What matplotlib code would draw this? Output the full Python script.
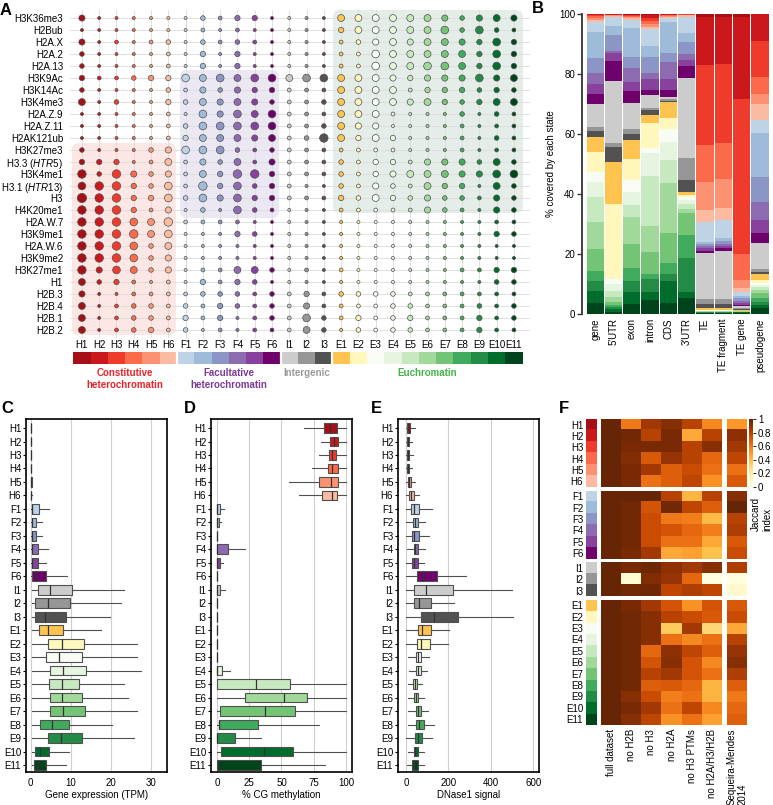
import numpy as np
import matplotlib
matplotlib.use('Agg')
import matplotlib.pyplot as plt
from matplotlib.patches import FancyBboxPatch
from matplotlib.colors import ListedColormap, Normalize
from matplotlib.cm import ScalarMappable

plt.rcParams['font.family'] = ['Liberation Sans', 'DejaVu Sans']
plt.rcParams['font.size'] = 7
plt.rcParams['mathtext.fontset'] = 'custom'
plt.rcParams['mathtext.rm'] = 'Liberation Sans'
plt.rcParams['mathtext.it'] = 'Liberation Sans:italic'

W, H = 773, 805

states = ['H1', 'H2', 'H3', 'H4', 'H5', 'H6',
          'F1', 'F2', 'F3', 'F4', 'F5', 'F6',
          'I1', 'I2', 'I3',
          'E1', 'E2', 'E3', 'E4', 'E5', 'E6', 'E7', 'E8', 'E9', 'E10', 'E11']
state_colors = ['#a50f15', '#cb181d', '#ef3b2c', '#fb6a4a', '#fc9272', '#fcbba1',
                '#bfd3e6', '#9ebcda', '#8c96c6', '#8c6bb1', '#88419d', '#6e016b',
                '#cccccc', '#969696', '#525252',
                '#fec44f', '#fff7bc', '#f7fcf5', '#e5f5e0', '#c7e9c0', '#a1d99b',
                '#74c476', '#41ab5d', '#238b45', '#006d2c', '#00441b']

# panel A: chromatin marks and bubble size level (state emission)
marks = ['H3K36me3', 'H2Bub', 'H2A.X', 'H2A.2', 'H2A.13', 'H3K9Ac', 'H3K14Ac',
         'H3K4me3', 'H2A.Z.9', 'H2A.Z.11', 'H2AK121ub', 'H3K27me3',
         'H3.3 $\\mathit{(HTR5)}$', 'H3K4me1', 'H3.1 $\\mathit{(HTR13)}$', 'H3',
         'H4K20me1', 'H2A.W.7', 'H3K9me1', 'H2A.W.6', 'H3K9me2', 'H3K27me1',
         'H1', 'H2B.3', 'H2B.4', 'H2B.1', 'H2B.2']
mark_levels = [
    [3, 1, 1, 1, 1, 1, 1, 2, 1.5, 2.5, 2.5, 1, 1, 1, 1, 3.5, 3.5, 3.5, 3.5, 3.5, 3.5, 3, 2, 3, 3.5, 3],
    [1, 1, 1, 1, 1, 1, 1, 1.5, 1, 1.5, 1, 1, 1, 1, 1, 2.5, 3.5, 3.5, 3.5, 3.5, 3.5, 4, 2, 4, 2, 1.5],
    [3, 1, 1.5, 1, 1.5, 2, 1, 2, 1.5, 2, 1.5, 1, 1, 1, 1, 1.5, 2, 3, 3.5, 3, 3.5, 3.5, 3, 2.5, 4, 2.5],
    [2, 1, 1, 1, 1, 1.5, 1, 2.5, 1, 2.5, 1, 1, 1, 1, 1, 1.5, 1.5, 4, 3.5, 3.5, 3.5, 3.5, 3.5, 2.5, 4, 2.5],
    [2, 1, 1, 1, 1, 1.5, 1, 2.5, 1, 2.5, 1, 1, 1, 1, 1, 1.5, 1.5, 4, 3.5, 3.5, 4, 4, 3.5, 2.5, 4, 2.5],
    [2.5, 1.5, 1.5, 2, 2.5, 2.5, 4, 3.5, 4, 3.5, 4, 4, 3.5, 4, 4, 3.5, 3.5, 3.5, 3, 2.5, 3, 3, 3, 4, 3, 3.5],
    [2, 1, 1, 1, 1, 2, 1.5, 3, 2, 3, 2.5, 2.5, 1.5, 1.5, 1.5, 3.5, 3.5, 3.5, 3.5, 1.5, 2.5, 2.5, 2.5, 2, 2.5, 2],
    [3.5, 1, 2, 1, 1, 2.5, 2, 3.5, 3, 3.5, 3, 2, 1.5, 1.5, 2, 3.5, 3.5, 3.5, 3.5, 3, 3.5, 2.5, 2, 2.5, 3.5, 3.5],
    [1, 1, 1, 1, 1, 1.5, 1, 4, 3, 4, 3.5, 4, 1.5, 1.5, 1.5, 3.5, 3.5, 3.5, 1.5, 1, 1, 1, 2, 1, 2, 1.5],
    [1, 1, 1, 1, 1, 1.5, 2, 4, 4, 4, 4, 4, 1.5, 1.5, 2, 3.5, 3, 3, 1, 1, 1, 1, 1.5, 1, 1.5, 1.5],
    [1, 1, 1, 1, 1, 1.5, 2.5, 3.5, 3.5, 3.5, 3, 3.5, 1.5, 2, 4.5, 3.5, 2.5, 3.5, 2.5, 1, 1, 1, 1.5, 1, 2, 1.5],
    [2, 1, 1, 1, 2, 3, 4, 4, 4, 2, 1.5, 2, 1.5, 1.5, 1.5, 1.5, 1.5, 1.5, 1.5, 1, 1, 1, 1.5, 1, 1.5, 1.5],
    [2.5, 2.5, 2.5, 1, 1.5, 3.5, 1.5, 3, 2, 3.5, 1.5, 3, 1.5, 1.5, 1.5, 2, 1.5, 2.5, 2.5, 1.5, 3, 3, 3, 2, 3.5, 2],
    [4.5, 2, 4.5, 3, 2, 3, 1.5, 3.5, 2.5, 4.5, 4.5, 2.5, 1.5, 1.5, 1.5, 2, 1.5, 2.5, 3, 3.5, 3.5, 3.5, 3, 3, 4, 4],
    [4, 4.5, 4.5, 2.5, 2, 4, 1.5, 4.5, 2.5, 4, 2, 2.5, 1.5, 1, 1, 2, 1.5, 3, 2, 1.5, 3.5, 2.5, 2.5, 1, 3.5, 2],
    [5, 4.5, 4.5, 2.5, 2.5, 4, 2, 4, 3, 4, 2.5, 2.5, 1.5, 1.5, 1.5, 2.5, 2, 3.5, 2.5, 2, 3, 2, 2, 1.5, 3, 2],
    [4.5, 4.5, 4.5, 2.5, 1.5, 3, 1, 2, 1, 4, 2, 1.5, 1, 1, 1, 1.5, 1.5, 1.5, 1.5, 1.5, 3, 2, 1.5, 1, 3, 2],
    [4.5, 4.5, 4.5, 4, 3.5, 4.5, 1.5, 1.5, 1.5, 1.5, 1, 1, 1, 1, 1, 1, 1, 1, 1, 1, 1, 1, 1, 1, 1.5, 1.5],
    [4.5, 4.5, 4.5, 4.5, 3.5, 4, 1, 1, 1, 2.5, 2, 1, 1, 1, 1, 1, 1, 1, 1, 1, 1, 1, 1, 1, 2.5, 2],
    [4.5, 4.5, 4.5, 4, 2, 3.5, 1, 1, 1, 1, 1, 1, 1, 1, 1, 1, 1, 1, 1, 1, 1, 1, 1, 1, 1, 1],
    [4.5, 4.5, 4.5, 4, 2, 3, 1, 1, 1, 1, 1, 1, 1, 1, 1, 1, 1, 1, 1, 1, 1, 1, 1, 1, 1, 1],
    [4.5, 3, 4, 3.5, 2, 3, 1, 1.5, 1.5, 3.5, 3.5, 2, 1, 1.5, 1, 1.5, 1, 1, 1, 1, 1, 1, 1.5, 1.5, 2.5, 2.5],
    [3.5, 2, 2.5, 1.5, 1, 1.5, 1, 2.5, 1.5, 2.5, 2, 1, 1, 1, 1, 1, 1, 1, 1, 1, 1, 1, 1, 1, 2, 2],
    [3, 1, 1, 1.5, 1.5, 1.5, 1.5, 2, 2, 2, 1.5, 2, 1.5, 2.5, 1.5, 2, 2, 2, 2, 1.5, 1.5, 1.5, 1.5, 1.5, 1.5, 1.5],
    [3.5, 1, 1.5, 2, 2, 1.5, 2, 1.5, 2.5, 2, 1.5, 2, 1.5, 3, 1.5, 1.5, 1.5, 1.5, 2, 2, 1.5, 1.5, 1.5, 2, 1.5, 2],
    [3.5, 1, 1.5, 2, 2, 1.5, 2.5, 1.5, 2.5, 1, 1.5, 2, 1.5, 4, 2, 1.5, 2.5, 1.5, 2, 2.5, 1.5, 1.5, 1.5, 2.5, 1.5, 2],
    [3.5, 1, 1.5, 2, 2.5, 1.5, 2, 1, 1.5, 1, 1.5, 1.5, 1.5, 3.5, 2, 1, 2, 1.5, 2, 2, 1.5, 1.5, 1.5, 2.5, 1.5, 1.5],
]

group_names = ['Constitutive\nheterochromatin', 'Facultative\nheterochromatin',
               'Intergenic', 'Euchromatin']
group_colors = ['#e8262b', '#7d3a98', '#9a9a9a', '#45b549']
group_centers = [2.5, 8.5, 13, 20]

# panel B: % of each feature covered by each state (order H1..E11)
features = ['gene', "5'UTR", 'exon', 'intron', 'CDS', "3'UTR", 'TE',
            'TE fragment', 'TE gene', 'pseudogene']
cov_gene = [0.1, 0.3, 0.4, 0.5, 0.6, 0.6, 3.6, 8.6, 4.8, 3.7, 3.5, 3.3, 7.7, 1.2, 2.1,
            5.0, 6.7, 3.1, 5.3, 8.0, 9.1, 7.4, 3.3, 3.3, 3.9, 3.8]
cov_5utr = [0.1, 0.1, 0.1, 0.1, 0.2, 0.3, 3.0, 3.1, 5.2, 0.9, 2.6, 6.6, 20.8, 1.1, 5.2,
            14.0, 25.1, 1.5, 2.5, 2.0, 1.5, 1.0, 0.7, 0.8, 0.7, 0.8]
cov_exon = [0.2, 0.2, 0.3, 0.3, 0.5, 0.5, 2.6, 9.6, 3.7, 4.9, 2.9, 3.9, 8.8, 1.7, 1.9,
            6.4, 6.9, 3.9, 4.5, 4.1, 9.0, 8.0, 4.2, 3.6, 4.2, 3.2]
cov_intron = [0.5, 1.0, 0.9, 0.9, 0.9, 0.8, 5.6, 3.6, 5.6, 1.9, 3.6, 1.7, 4.2, 0.8, 1.7,
              2.7, 8.4, 1.4, 7.7, 16.8, 8.7, 7.4, 1.5, 4.3, 2.7, 4.7]
cov_cds = [0.1, 0.1, 0.2, 0.2, 0.3, 0.3, 1.4, 10.3, 3.2, 5.6, 3.6, 2.3, 0.7, 0.6, 0.5,
           5.2, 3.7, 4.5, 5.9, 7.5, 16.7, 10.2, 3.7, 2.2, 7.2, 3.8]
cov_3utr = [0.05, 0.05, 0.1, 0.1, 0.2, 0.4, 5.5, 3.0, 4.0, 1.9, 2.0, 4.1, 26.7, 7.2, 4.1,
            0.9, 0.8, 0.9, 1.3, 1.7, 1.4, 7.3, 7.7, 11.4, 1.8, 5.4]
cov_te = [0.9, 16.1, 26.9, 12.2, 9.2, 4.1, 6.9, 0.5, 0.8, 0.6, 0.8, 0.8, 15.5, 1.7, 1.3,
          0.4, 0.3, 0.1, 0.1, 0.1, 0.1, 0.1, 0.1, 0.2, 0.2, 0.2]
cov_te_frag = [0.9, 15.9, 26.3, 11.9, 9.8, 3.9, 6.0, 1.1, 0.9, 0.8, 0.8, 0.9, 16.1, 1.7, 1.3,
               0.4, 0.3, 0.1, 0.1, 0.1, 0.1, 0.1, 0.1, 0.2, 0.2, 0.2]
cov_te_gene = [1.0, 27.2, 51.9, 8.6, 2.5, 1.6, 1.2, 0.7, 0.9, 0.8, 0.6, 0.5, 0.5, 0.4, 0.3,
               0.2, 0.1, 0.05, 0.05, 0.05, 0.05, 0.1, 0.1, 0.1, 0.2, 0.3]
cov_pseudo = [0.0, 9.0, 11.9, 5.9, 3.3, 5.2, 4.3, 14.6, 8.6, 5.9, 4.2, 3.5, 8.6, 0.9, 0.9,
              1.9, 1.1, 0.6, 0.5, 1.1, 1.1, 1.5, 1.3, 1.1, 1.1, 1.9]

# panels C-E: box stats per state (whisker low, q1, median, q3, whisker high)
expr_stats = [
    (0, 0, 0, 0.05, 0.1), (0, 0, 0, 0.05, 0.1), (0, 0, 0, 0.05, 0.1),
    (0, 0, 0, 0.05, 0.1), (0, 0, 0.05, 0.2, 0.3), (0, 0, 0, 0.1, 0.2),
    (0.1, 0.3, 0.3, 2.0, 4.5), (0.1, 0.3, 0.3, 1.4, 2.8), (0.1, 0.3, 0.3, 1.25, 2.7),
    (0.1, 0.3, 0.3, 1.9, 4.3), (0.1, 0.3, 0.3, 1.75, 3.9), (0.1, 0.3, 1.4, 3.9, 9.1),
    (0.3, 1.7, 4.9, 10.3, 23.3), (0.3, 1.0, 4.3, 9.7, 22.4), (0.3, 1.0, 3.5, 8.7, 19.75),
    (0.3, 2.0, 4.2, 8.1, 17.4), (0.3, 4.3, 7.7, 13.25, 26.4), (0.3, 3.7, 7.1, 12.8, 26.4),
    (0.3, 4.75, 8.1, 13.9, 27.4), (0.3, 4.6, 7.7, 12.1, 23.3), (0.3, 4.75, 7.8, 12.7, 24.2),
    (0.3, 4.75, 8.1, 13.5, 26.4), (0.3, 2.4, 5.2, 9.6, 20.3), (0.3, 4.2, 7.5, 12.8, 25.75),
    (0.3, 1.0, 2.25, 4.6, 9.6), (0.3, 0.75, 1.8, 3.9, 8.7),
]
meth_stats = [
    (67.8, 82.6, 87.8, 93.0, 100), (80.8, 87.8, 90.4, 93.5, 100), (78.7, 86.5, 89.1, 92.5, 100),
    (73.5, 85.7, 89.1, 93.8, 100), (56.0, 78.7, 88.6, 93.5, 100), (63.9, 81.3, 89.1, 93.0, 100),
    (0, 0, 0, 2.6, 5.5), (0, 0, 0, 1.6, 2.9), (0, 0, 0, 0.2, 0.4),
    (0, 0, 0.3, 8.6, 21.6), (0, 0, 0, 2.1, 4.7), (0, 0, 0, 0.2, 0.4),
    (0, 0, 0, 2.6, 6.2), (0, 0, 0, 0.2, 0.4), (0, 0, 0, 0.2, 0.4),
    (0, 0, 0, 0.2, 0.4), (0, 0, 0, 0.2, 0.4), (0, 0, 0, 0.2, 0.4),
    (0, 0, 0, 3.9, 10.4), (0, 0, 30.6, 56.6, 100), (0, 22.1, 52.0, 70.1, 100),
    (0, 2.6, 37.1, 60.5, 100), (0, 1.3, 1.5, 32.0, 78.7), (0, 0, 0, 13.8, 34.0),
    (0, 3.1, 36.6, 58.7, 100), (0, 0, 0.5, 33.8, 83.9),
]
dnase_stats = [
    (0, 4.7, 12.5, 20, 40.6), (0, 4.7, 9.4, 15.6, 28), (0, 4.7, 10.9, 17, 33),
    (0, 4.7, 9.4, 15.6, 28), (0, 7.8, 15.6, 25, 40.6), (0, 15.6, 25, 36, 62.5),
    (0, 25, 36, 64, 123), (0, 33, 42, 56, 90.6), (0, 28, 36, 64, 111),
    (4.7, 36, 44, 59, 90.6), (0, 31, 39, 55, 87.5), (1.6, 51.6, 80, 145, 283),
    (0, 39, 94, 223, 500), (0, 36, 64, 117, 228), (0, 72, 134, 247, 505),
    (0, 55, 75, 117, 203), (0, 51.6, 72, 114, 197), (7.8, 47, 59, 72, 111),
    (12.5, 47, 56, 70, 101), (7.8, 33, 40.6, 51.6, 78), (9.4, 39, 47, 59, 87.5),
    (7.8, 47, 55, 70, 103), (7.8, 47, 64, 83, 130), (0, 40.6, 55, 75, 125),
    (7.8, 36, 44, 59, 86), (4.7, 31, 39, 55, 83),
]

# panel F: Jaccard index of each state vs. reduced models
jaccard_cols = ['full dataset', 'no H2B', 'no H3', 'no H2A', 'no H3 PTMs',
                'no H2A/H3/H2B', 'Sequeira-Mendes\n2014']
jaccard = [
    [1.0, 0.60, 0.85, 0.92, 0.80, 0.55, 0.50],
    [1.0, 0.97, 0.80, 0.95, 0.45, 0.80, 0.90],
    [1.0, 0.95, 0.95, 0.95, 0.80, 0.92, 0.85],
    [1.0, 0.93, 0.70, 0.88, 0.80, 0.65, 0.78],
    [1.0, 0.95, 0.85, 0.68, 0.75, 0.62, 0.62],
    [1.0, 0.95, 0.62, 0.68, 0.78, 0.52, 0.70],
    [1.0, 1.0, 1.0, 0.80, 0.42, 0.80, 0.92],
    [1.0, 0.97, 0.72, 0.97, 0.78, 0.68, 1.0],
    [1.0, 0.97, 0.75, 0.60, 0.58, 0.40, 0.80],
    [1.0, 0.97, 0.75, 0.72, 0.65, 0.58, 0.82],
    [1.0, 0.97, 0.75, 0.62, 0.62, 0.45, 0.70],
    [1.0, 0.95, 0.85, 0.45, 0.48, 0.38, 0.75],
    [1.0, 0.95, 0.98, 0.90, 0.85, 0.92, 0.82],
    [1.0, 0.05, 0.93, 0.88, 0.65, 0.02, 0.03],
    [1.0, 0.97, 0.98, 0.78, 0.82, 0.78, 0.08],
    [1.0, 0.95, 0.85, 0.72, 0.52, 0.72, 0.70],
    [1.0, 0.97, 0.92, 0.80, 0.75, 0.70, 0.75],
    [1.0, 0.97, 0.92, 0.35, 0.85, 0.30, 0.45],
    [1.0, 0.97, 0.92, 0.62, 0.55, 0.62, 0.80],
    [1.0, 0.97, 0.65, 0.90, 0.78, 0.68, 0.88],
    [1.0, 0.97, 0.72, 0.92, 0.72, 0.55, 0.92],
    [1.0, 0.97, 0.80, 0.85, 0.72, 0.62, 0.82],
    [1.0, 0.97, 0.68, 0.70, 0.65, 0.42, 0.68],
    [1.0, 0.92, 0.75, 0.58, 0.62, 0.42, 0.60],
    [1.0, 0.95, 0.85, 0.62, 0.78, 0.55, 0.65],
    [1.0, 0.92, 0.78, 0.52, 0.62, 0.48, 0.68],
]
state_groups = [(0, 6), (6, 12), (12, 15), (15, 26)]


def add_axes_px(fig, x0, y0, x1, y1):
    # place an axes using pixel box (top-left origin)
    return fig.add_axes([x0 / W, 1 - y1 / H, (x1 - x0) / W, (y1 - y0) / H])


def panel_label(fig, x, y, s):
    fig.text(x / W, 1 - y / H, s, ha='left', va='top', fontsize=12, fontweight='bold')


def plot_bubbles(fig):
    ax = add_axes_px(fig, 70, 10, 530, 338)
    ncol, nrow = len(states), len(marks)
    xx, yy = np.meshgrid(np.arange(ncol), np.arange(nrow))
    lev = np.array(mark_levels)
    diam = (1.5 + 1.55 * lev) * 0.72
    cols = [state_colors[i] for i in xx.ravel()]
    ax.scatter(xx.ravel(), yy.ravel(), s=diam.ravel() ** 2, c=cols,
               edgecolors='#505050', linewidths=0.5, zorder=3)
    ax.set_xlim(-0.69, 25.93)
    ax.set_ylim(26.67, -0.67)

    # shaded group boxes
    for x0, y0, x1, y1, fc in [(-0.58, 10.42, 5.44, 26.42, '#fde7e4'),
                               (5.67, 4.33, 11.4, 16.67, '#ece8f3'),
                               (14.53, -0.67, 25.52, 16.25, '#e4ede8')]:
        p = FancyBboxPatch((x0, y0), x1 - x0, y1 - y0,
                           boxstyle='round,pad=0,rounding_size=0.4',
                           mutation_aspect=1.44, fc=fc, ec='none', zorder=0.2)
        ax.add_patch(p)

    ax.set_xticks(range(ncol))
    ax.set_yticks(range(nrow))
    ax.set_yticklabels(marks)
    ax.tick_params(length=0, labelbottom=False, pad=5, labelsize=7)
    ax.grid(True, color='#dcdcdc', linewidth=0.6)
    ax.set_axisbelow(True)
    for s in ax.spines.values():
        s.set_visible(False)

    # state colour strip
    axs = add_axes_px(fig, 70, 352, 530, 364)
    axs.bar(range(ncol), 1, width=1, color=state_colors)
    for b in [5.5, 11.5, 14.5]:
        axs.axvline(b, color='white', lw=1.6)
    axs.set_xlim(-0.69, 25.93)
    axs.set_ylim(0, 1)
    axs.set_yticks([])
    axs.set_xticks(range(ncol))
    axs.set_xticklabels(states)
    axs.xaxis.tick_top()
    axs.tick_params(length=0, pad=1.5, labelsize=7)
    for s in axs.spines.values():
        s.set_visible(False)
    for name, c, xc in zip(group_names, group_colors, group_centers):
        axs.text(xc, -0.35, name, transform=axs.get_xaxis_transform(), ha='center',
                 va='top', color=c, fontsize=7, fontweight='bold', linespacing=1.25)


def plot_coverage(fig):
    ax = add_axes_px(fig, 582, 14, 772, 314)
    cov = np.array([cov_gene, cov_5utr, cov_exon, cov_intron, cov_cds, cov_3utr,
                    cov_te, cov_te_frag, cov_te_gene, cov_pseudo])
    cov = cov / cov.sum(axis=1, keepdims=True) * 100
    x = np.arange(len(features))
    bottom = np.zeros(len(features))
    for j in reversed(range(len(states))):
        ax.bar(x, cov[:, j], bottom=bottom, width=0.94, color=state_colors[j], linewidth=0)
        bottom += cov[:, j]
    ax.set_xlim(-0.72, 9.66)
    ax.set_ylim(0, 100)
    ax.set_xticks(x)
    ax.set_xticklabels(features, rotation=90)
    ax.set_yticks([0, 20, 40, 60, 80, 100])
    ax.tick_params(axis='x', length=0, pad=3, labelsize=7)
    ax.tick_params(axis='y', length=3.5, width=1, pad=1.5, labelsize=7, color='#333333')
    for s in ['top', 'right', 'bottom']:
        ax.spines[s].set_visible(False)
    ax.spines['left'].set_linewidth(1.3)
    ax.spines['left'].set_color('#333333')
    ax.set_ylabel('% covered by each state', fontsize=7, labelpad=2)


def plot_boxes(fig, x0, x1, stats, xlim, ticks, xlabel):
    ax = add_axes_px(fig, x0, 419, x1, 772)
    bstats = [dict(whislo=s[0], q1=s[1], med=s[2], q3=s[3], whishi=s[4], fliers=[])
              for s in stats]
    art = ax.bxp(bstats, positions=range(len(states)), widths=0.72,
                 orientation='horizontal', patch_artist=True, showcaps=False,
                 boxprops=dict(edgecolor='#505050', linewidth=0.8),
                 medianprops=dict(color='#333333', linewidth=0.9),
                 whiskerprops=dict(color='#505050', linewidth=0.8))
    for patch, c in zip(art['boxes'], state_colors):
        patch.set_facecolor(c)
    ax.set_ylim(25.52, -0.67)
    ax.set_xlim(*xlim)
    ax.set_yticks(range(len(states)))
    ax.set_yticklabels(states)
    ax.set_xticks(ticks)
    ax.tick_params(axis='y', length=2, pad=1.5, labelsize=7)
    ax.tick_params(axis='x', length=0, pad=4, labelsize=7)
    ax.grid(True, axis='x', color='#cfcfcf', linewidth=0.8)
    ax.set_axisbelow(True)
    for s in ax.spines.values():
        s.set_linewidth(1.2)
    ax.set_xlabel(xlabel, fontsize=7, labelpad=2)


def plot_jaccard(fig):
    jac = np.array(jaccard)
    cmap = plt.get_cmap('YlOrBr')
    strip_cmap = ListedColormap(state_colors)
    row_h, gap = 11.35, 3.5
    y = 419
    for gi, (g0, g1) in enumerate(state_groups):
        h = (g1 - g0) * row_h
        axs = add_axes_px(fig, 586, y, 597, y + h)
        axs.imshow(np.arange(g0, g1)[:, None], cmap=strip_cmap, vmin=-0.5,
                   vmax=len(states) - 0.5, aspect='auto')
        axs.set_yticks(range(g1 - g0))
        axs.set_yticklabels(states[g0:g1])
        axs.set_xticks([])
        axs.tick_params(length=0, pad=2, labelsize=7)

        axm = add_axes_px(fig, 601, y, 722, y + h)
        axm.imshow(jac[g0:g1, :6], cmap=cmap, vmin=0, vmax=1, aspect='auto')
        axe = add_axes_px(fig, 727, y, 747, y + h)
        axe.imshow(jac[g0:g1, 6:], cmap=cmap, vmin=0, vmax=1, aspect='auto')
        for a in (axm, axe):
            a.set_yticks([])
            a.set_xticks([])
        for a in (axs, axm, axe):
            for s in a.spines.values():
                s.set_visible(False)
        if gi == len(state_groups) - 1:
            axm.set_xticks(range(6))
            axm.set_xticklabels(jaccard_cols[:6], rotation=90)
            axe.set_xticks([0])
            axe.set_xticklabels(jaccard_cols[6:], rotation=90, multialignment='left')
            for a in (axm, axe):
                a.tick_params(length=0, pad=3, labelsize=7)
        y += h + gap

    cax = add_axes_px(fig, 749, 419, 753, 487)
    cb = fig.colorbar(ScalarMappable(norm=Normalize(0, 1), cmap=cmap), cax=cax,
                      ticks=[0, 0.2, 0.4, 0.6, 0.8, 1])
    cb.ax.set_yticklabels(['0', '0.2', '0.4', '0.6', '0.8', '1'])
    cb.ax.tick_params(length=2.5, width=0.6, pad=1, labelsize=7)
    cb.outline.set_visible(False)
    fig.text(762 / W, 1 - 514 / H, 'Jaccard\nindex', rotation=90, ha='center',
             va='center', fontsize=7, multialignment='left')


def main():
    fig = plt.figure(figsize=(W / 100, H / 100), dpi=100)
    plot_bubbles(fig)
    plot_coverage(fig)
    plot_boxes(fig, 26, 167, expr_stats, (-1.2, 34), [0, 10, 20, 30],
               'Gene expression (TPM)')
    plot_boxes(fig, 211, 352, meth_stats, (-4.6, 104.6), [0, 25, 50, 75, 100],
               '% CG methylation')
    plot_boxes(fig, 398, 539, dnase_stats, (-37, 626), [0, 200, 400, 600],
               'DNase1 signal')
    plot_jaccard(fig)

    panel_label(fig, 0, 3, 'A')
    panel_label(fig, 532, 1, 'B')
    panel_label(fig, 1, 401, 'C')
    panel_label(fig, 184, 401, 'D')
    panel_label(fig, 371, 401, 'E')
    panel_label(fig, 559, 401, 'F')

    fig.savefig('out.png', dpi=100)
    plt.close(fig)


if __name__ == '__main__':
    main()
